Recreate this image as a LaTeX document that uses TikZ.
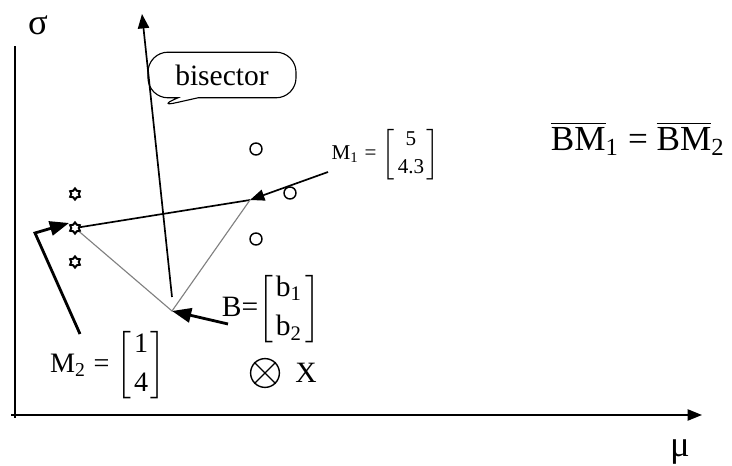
\documentclass[tikz,border=0pt]{standalone}
\usepackage{fontspec}
\setmainfont{Liberation Serif}
\usetikzlibrary{arrows.meta,shapes.geometric,shapes.callouts}
\newcommand{\colvec}[2]{$\left[\begin{array}{@{\hspace{1pt}}c@{\hspace{1pt}}}\mbox{#1}\\[2pt]\mbox{#2}\end{array}\right]$}
\begin{document}
\begin{tikzpicture}[x = 0.0125cm, y = -0.0125cm,
  thickarrow/.style = {line width = 1pt, -{Triangle[length=2.4mm,width=1.8mm]}},
  thinarrow/.style = {line width = 0.6pt, -{Triangle[length=1.8mm,width=1.4mm]}},
  starpt/.style = {star, star points = 6, star point ratio = 1.5, draw, inner sep = 0pt, minimum size = 0.14cm, line width = 0.7pt},
  ringpt/.style = {circle, draw, inner sep = 0pt, minimum size = 0.15cm, line width = 0.5pt}]
\useasboundingbox (0,0) rectangle (732,466);
\draw [line width = 0.6pt] (15,418) -- (15,46);
\draw [thinarrow] (11,415) -- (702,415);
\node (sigma) at (38,25) {\fontsize{13}{14}\selectfont σ};
\node (mu) at (680,452) {\fontsize{13}{14}\selectfont μ};
\coordinate (M1) at (250,200);
\coordinate (M2) at (77,228);
\coordinate (B) at (172,311);
\foreach \y in {194,228,262}{
\node [starpt] (s\y) at (75,\y) {};
}
\foreach \p [count = \i] in {(256,149),(290,193),(256,239)}{
\node [ringpt] (c\i) at \p {};
}
\draw [line width = 0.6pt] (s228) -- (M1);
\draw [gray, line width = 0.4pt] (s228) -- (B) -- (M1);
\draw [thinarrow] (172,297) -- (142,14);
\node [rectangle callout, draw, rounded corners = 2.5mm, minimum width = 1.85cm, minimum height = 0.57cm,
  callout absolute pointer = {(157,107)}, line width = 0.4pt] (bis) at (222,75)
  {\fontsize{10.5}{12}\selectfont bisector};
\coordinate (m1tail) at (328,172);
\draw [thinarrow] (m1tail) -- (M1);
\node (m1lbl) at (386,155) {\fontsize{7.5}{8}\selectfont M\textsubscript{1} = \colvec{5}{4.3}};
\node (blbl) at (271,309) {\fontsize{10.5}{12}\selectfont B=\colvec{b\textsubscript{1}}{b\textsubscript{2}}};
\draw [thickarrow] (228,324) -- (B);
\node (m2lbl) at (108,365) {\fontsize{10}{12}\selectfont M\textsubscript{2} = \colvec{1}{4}};
\draw [thickarrow] (80,334) -- (35,233) -- (69,223);
\node [circle, draw, minimum size = 0.36cm, inner sep = 0pt, line width = 0.5pt] (xpt) at (265,373) {};
\draw [line width = 0.5pt] (xpt.north east) -- (xpt.south west) (xpt.north west) -- (xpt.south east);
\node (xlbl) at (306,373) {\fontsize{10.5}{12}\selectfont X};
\node (eq) at (638,139) {\fontsize{12.5}{14}\selectfont $\overline{\mbox{BM}}$\textsubscript{1} = $\overline{\mbox{BM}}$\textsubscript{2}};
\end{tikzpicture}
\end{document}
